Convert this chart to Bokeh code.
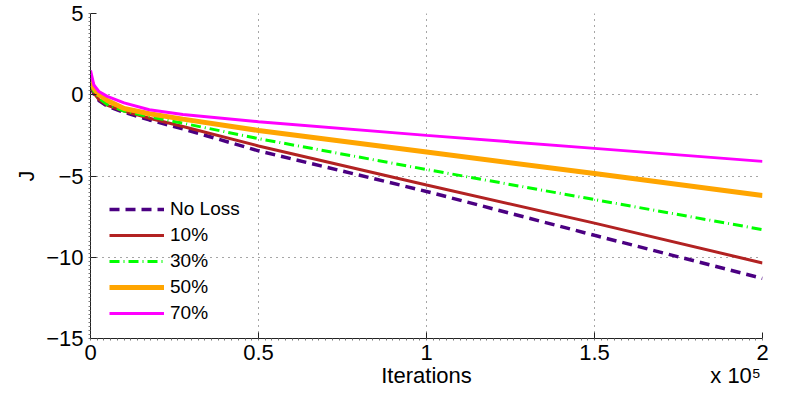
from bokeh.plotting import figure
from bokeh.models import Range1d, FixedTicker, Legend, LegendItem, LinearAxis
from bokeh.embed import file_html
from bokeh.resources import INLINE

# ---- data ----
iterations = [0, 1000, 2500, 5000, 10000, 17500, 27500, 50000, 100000, 150000, 200000]
no_loss = [0.55, 0.05, -0.35, -0.70, -1.08, -1.55, -2.10, -3.45, -5.95, -8.65, -11.30]
loss_10 = [0.60, 0.10, -0.30, -0.65, -1.00, -1.45, -1.95, -3.15, -5.55, -7.90, -10.35]
loss_30 = [0.70, 0.20, -0.20, -0.60, -1.00, -1.35, -1.75, -2.70, -4.60, -6.45, -8.30]
loss_50 = [0.95, 0.40, 0.00, -0.35, -0.85, -1.17, -1.50, -2.20, -3.52, -4.85, -6.20]
loss_70 = [1.50, 0.60, 0.20, -0.10, -0.50, -0.92, -1.22, -1.66, -2.50, -3.30, -4.10]

series_names = ["No Loss", "10%", "30%", "50%", "70%"]
x_ticks = [0, 50000, 100000, 150000, 200000]
x_tick_labels = ["0", "0.5", "1", "1.5", "2"]
y_ticks = [-15, -10, -5, 0, 5]
y_tick_labels = ["\u221215", "\u221210", "\u22125", "0", "5"]
x_label = "Iterations"
y_label = "J"
x_multiplier = "x 10\u2075"

FONT = "Liberation Sans"

p = figure(width=769, height=394, output_backend="svg", toolbar_location=None,
           x_range=Range1d(0, 200000), y_range=Range1d(-15, 5),
           min_border_left=90, min_border_right=7, min_border_top=13, min_border_bottom=56)
p.outline_line_color = None
p.background_fill_color = "white"
p.border_fill_color = "white"

styles = [
    dict(color="#4B0082", line_width=3.5, line_dash="10 6"),
    dict(color="#B22222", line_width=3.0, line_dash="solid"),
    dict(color="#00FF00", line_width=3.0, line_dash="10 4 1 4"),
    dict(color="#FFA500", line_width=5.0, line_dash="solid"),
    dict(color="#FF00FF", line_width=3.0, line_dash="solid"),
]
ys = [no_loss, loss_10, loss_30, loss_50, loss_70]

items = []
for name, yv, st in zip(series_names, ys, styles):
    r = p.line(iterations, yv, line_color=st["color"], line_width=st["line_width"],
               line_dash=st["line_dash"])
    items.append(LegendItem(label=name, renderers=[r]))

legend = Legend(items=items, location=(19, 14), padding=0, margin=0, spacing=4,
                glyph_width=55, glyph_height=20, label_height=20, label_standoff=6,
                label_text_font=FONT, label_text_font_size="19px", label_text_color="black",
                background_fill_alpha=0, border_line_color=None)
p.add_layout(legend, "center")

# axes
xt = FixedTicker(ticks=x_ticks, minor_ticks=list(range(0, 200001, 2000)))
yt = FixedTicker(ticks=y_ticks, minor_ticks=[-15 + 0.25 * i for i in range(81)])
p.xaxis.ticker = xt
p.yaxis.ticker = yt
p.xaxis.major_label_overrides = dict(zip(x_ticks, x_tick_labels))
p.yaxis.major_label_overrides = dict(zip(y_ticks, y_tick_labels))

for ax in (p.xaxis, p.yaxis):
    ax.major_tick_in = 6
    ax.major_tick_out = 0
    ax.minor_tick_in = 0
    ax.minor_tick_out = 2
    ax.minor_tick_line_color = "#777777"
    ax.axis_line_color = "#222222"
    ax.major_tick_line_color = "#222222"
    ax.major_label_text_font = FONT
    ax.major_label_text_font_size = "22px"
    ax.major_label_text_color = "black"
    ax.axis_label_text_font = FONT
    ax.axis_label_text_font_size = "22px"
    ax.axis_label_text_font_style = "normal"
    ax.axis_label_text_color = "black"

p.yaxis.axis_label = y_label
p.xaxis.major_label_standoff = 4
p.yaxis.major_label_standoff = 5
p.yaxis.axis_label_standoff = 4

# second row below the x axis: axis title and the x 10^5 multiplier side by side
label_row = LinearAxis(ticker=FixedTicker(ticks=[100000, 192000], minor_ticks=[]),
                       major_label_overrides={100000: x_label, 192000: x_multiplier},
                       axis_line_color=None, major_tick_line_color=None,
                       minor_tick_line_color=None, major_tick_in=0, major_tick_out=0,
                       minor_tick_in=0, minor_tick_out=0, major_label_standoff=0,
                       major_label_text_font=FONT, major_label_text_font_size="22px",
                       major_label_text_color="black")
p.add_layout(label_row, "below")

p.grid.grid_line_color = "black"
p.grid.grid_line_alpha = 0.7
p.grid.grid_line_dash = "1 5"
p.grid.grid_line_width = 1

open("out.html", "w").write(file_html(p, INLINE))
